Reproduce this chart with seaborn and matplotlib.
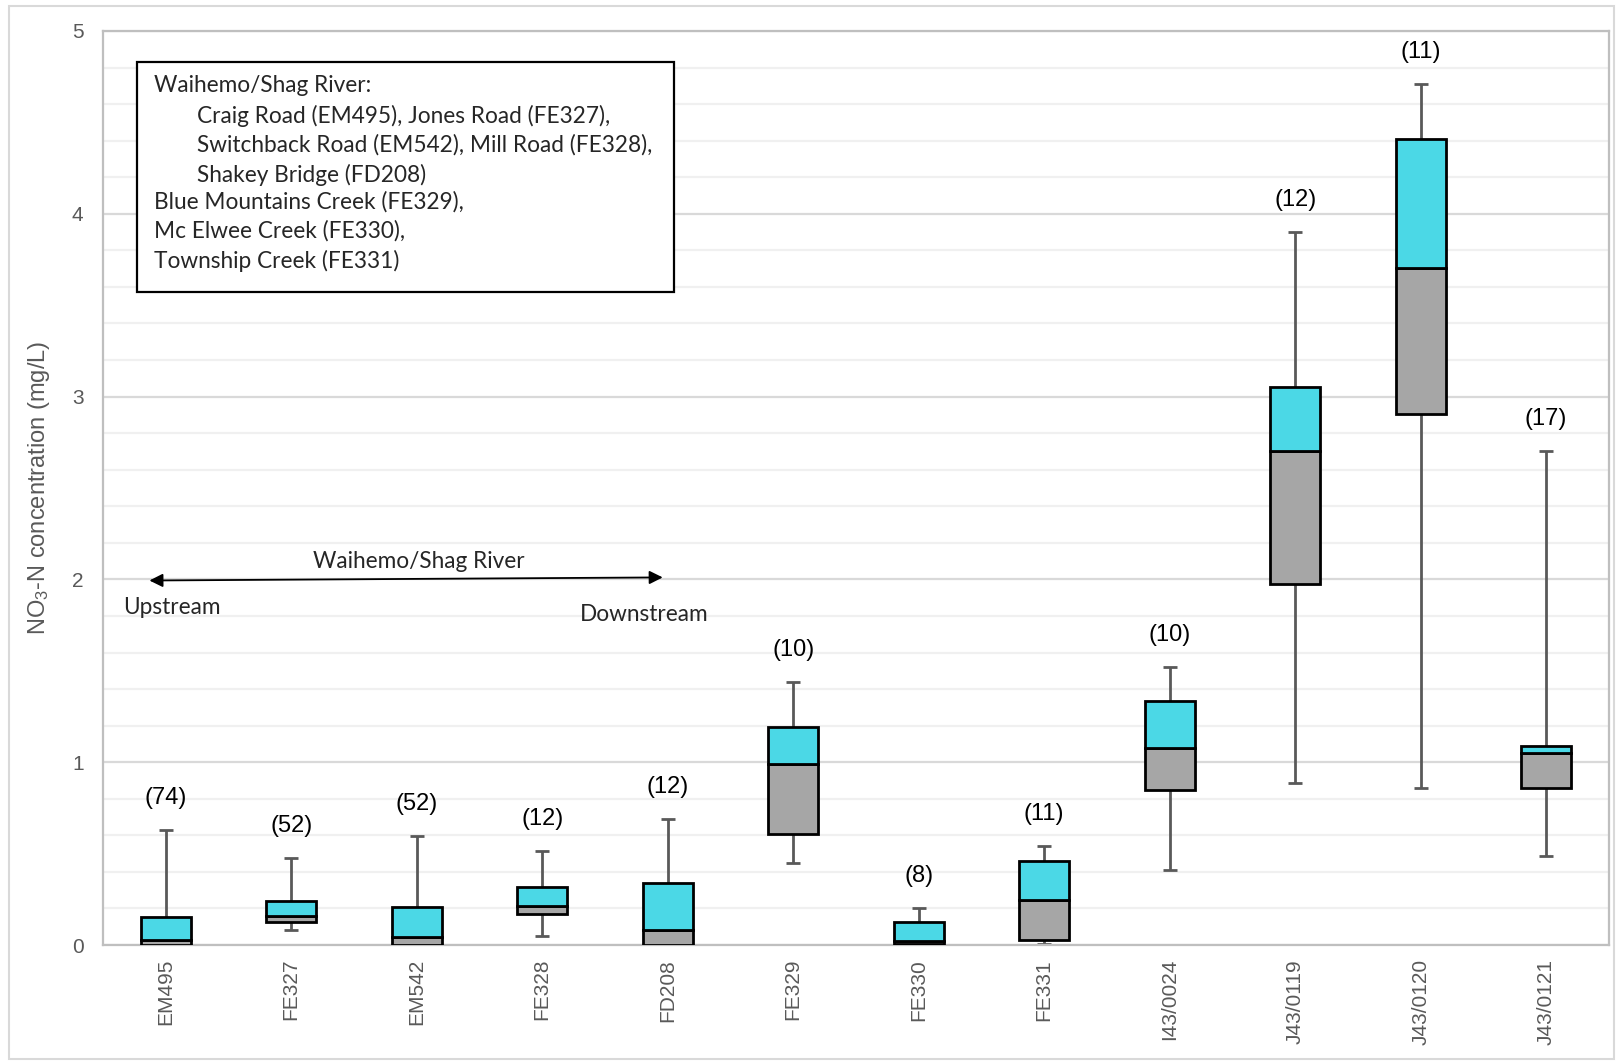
import numpy as np
import pandas as pd
import matplotlib
matplotlib.use("Agg")
import matplotlib.pyplot as plt
import seaborn as sns
from matplotlib.patches import Rectangle

# ================= DATOS =================
sites = ['EM495', 'FE327', 'EM542', 'FE328', 'FD208', 'FE329',
         'FE330', 'FE331', 'I43/0024', 'J43/0119', 'J43/0120', 'J43/0121']
n_samples = [74, 52, 52, 12, 12, 10, 8, 11, 10, 12, 11, 17]
v_min = [0.0, 0.082, 0.0, 0.047, 0.0, 0.446, 0.0, 0.004, 0.41, 0.887, 0.859, 0.486]
v_q1 = [0.0, 0.128, 0.0, 0.168, 0.0, 0.605, 0.005, 0.029, 0.847, 1.977, 2.904, 0.859]
v_med = [0.029, 0.157, 0.044, 0.214, 0.082, 0.99, 0.02, 0.248, 1.08, 2.70, 3.706, 1.05]
v_q3 = [0.153, 0.241, 0.21, 0.316, 0.338, 1.19, 0.128, 0.462, 1.333, 3.05, 4.41, 1.09]
v_max = [0.627, 0.475, 0.597, 0.515, 0.689, 1.44, 0.205, 0.544, 1.52, 3.90, 4.71, 2.70]

legend_lines = [
    ('Waihemo/Shag River:', 0),
    ('Craig Road (EM495), Jones Road (FE327),', 1),
    ('Switchback Road (EM542), Mill Road (FE328),', 1),
    ('Shakey Bridge (FD208)', 1),
    ('Blue Mountains Creek (FE329),', 0),
    ('Mc Elwee Creek (FE330),', 0),
    ('Township Creek (FE331)', 0),
]

df = pd.DataFrame({'site': sites, 'n': n_samples, 'min': v_min, 'q1': v_q1,
                   'med': v_med, 'q3': v_q3, 'max': v_max})
df['low'] = df['med'] - df['q1']
df['high'] = df['q3'] - df['med']

# ================= ESTILO =================
sns.set_style("white")
plt.rcParams['font.family'] = ['Liberation Sans', 'DejaVu Sans']
plt.rcParams['mathtext.fontset'] = 'custom'
plt.rcParams['mathtext.rm'] = 'Liberation Sans'
plt.rcParams['mathtext.it'] = 'Liberation Sans'

gris_txt = '#595959'
cyan = '#4bd8e6'
gris_caja = '#a6a6a6'
fuente_nota = ['Lato', 'DejaVu Sans']
tam_nota = 16.3

fig = plt.figure(figsize=(16.17, 10.61), dpi=100)
ax = fig.add_axes([0.0637, 0.1093, 0.9313, 0.8615])

# cajas: gris de Q1 a mediana, cyan de mediana a Q3
sns.barplot(data=df, x='site', y='low', bottom=df['q1'].values, color=gris_caja,
            saturation=1, width=0.4, edgecolor='black', linewidth=2, ax=ax, zorder=3)
sns.barplot(data=df, x='site', y='high', bottom=df['med'].values, color=cyan,
            saturation=1, width=0.4, edgecolor='black', linewidth=2, ax=ax, zorder=3)

# bigotes
xs = np.arange(len(sites))
ax.vlines(xs, df['q3'], df['max'], color=gris_txt, lw=2, zorder=2)
ax.vlines(xs, df['min'], df['q1'], color=gris_txt, lw=2, zorder=2)
ax.hlines(df['max'], xs - 0.055, xs + 0.055, color=gris_txt, lw=2, zorder=2)
ax.hlines(df['min'], xs - 0.055, xs + 0.055, color=gris_txt, lw=2, zorder=2)

# número de muestras
for i, row in df.iterrows():
    ax.annotate(f"({row['n']})", xy=(i, row['max']), xytext=(0, 32),
                textcoords='offset pixels', ha='center', va='center',
                fontsize=17, color='black')

# ejes
ax.set_xlim(-0.5, len(sites) - 0.5)
ax.set_ylim(0, 5)
ax.set_yticks(range(6))
ax.set_yticks(np.arange(0, 5.01, 0.2), minor=True)
ax.grid(True, axis='y', which='major', color='#d9d9d9', lw=1.6, zorder=0)
ax.grid(True, axis='y', which='minor', color='#f0f0f0', lw=1.6, zorder=0)
ax.set_axisbelow(True)
for s in ax.spines.values():
    s.set_color('#bfbfbf')
    s.set_linewidth(1.6)
ax.tick_params(axis='y', which='both', length=0, pad=14, labelsize=15, labelcolor=gris_txt)
ax.tick_params(axis='x', length=0, pad=10, labelsize=15, labelcolor=gris_txt)
plt.setp(ax.get_xticklabels(), rotation=90)
ax.set_xlabel('')
ax.set_ylabel(r'NO$_3$-N concentration (mg/L)', fontsize=17, color=gris_txt)
ax.yaxis.set_label_coords(-0.034, 0.5)

# recuadro con la descripción de los sitios
ax.add_patch(Rectangle((0.0226, 0.714), 0.3565, 0.252, transform=ax.transAxes,
                       facecolor='white', edgecolor='black', lw=1.6, zorder=5))
ys_txt = [0.940, 0.907, 0.875, 0.842, 0.813, 0.781, 0.748]
for (txt, nivel), y in zip(legend_lines, ys_txt):
    ax.text(0.0336 if nivel == 0 else 0.0624, y, txt, transform=ax.transAxes,
            ha='left', va='center', fontsize=tam_nota, family=fuente_nota, zorder=6)

# flecha aguas arriba / aguas abajo
ax.annotate('', xy=(-0.13, 1.994), xytext=(3.96, 2.011),
            arrowprops=dict(arrowstyle='<|-|>', color='black', lw=1.3,
                            mutation_scale=20, shrinkA=0, shrinkB=0), zorder=6)
ax.text(2.02, 2.096, 'Waihemo/Shag River', ha='center', va='center',
        fontsize=tam_nota, family=fuente_nota)
ax.text(-0.337, 1.847, 'Upstream', ha='left', va='center', fontsize=tam_nota, family=fuente_nota)
ax.text(3.30, 1.81, 'Downstream', ha='left', va='center', fontsize=tam_nota, family=fuente_nota)

# borde del área del gráfico
fig.patches.append(Rectangle((0.0056, 0.002), 0.9925, 0.9925, transform=fig.transFigure,
                             fill=False, edgecolor='#d9d9d9', lw=1.5))

plt.savefig('out.png', dpi=100)
